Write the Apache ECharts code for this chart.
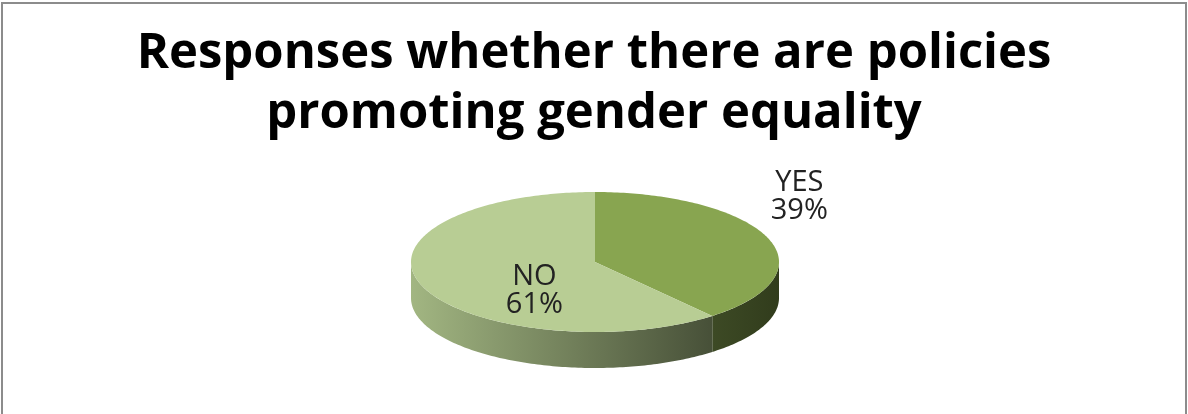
<!DOCTYPE html>
<html>
<head>
<meta charset="utf-8">
<script src="https://cdn.jsdelivr.net/npm/echarts@6/dist/echarts.min.js"></script>
<style>
  html, body { margin: 0; padding: 0; background: #fff; }
  #chart { width: 1188px; height: 414px; }
</style>
</head>
<body>
<div id="chart"></div>
<script>
// data
const categories = ['YES', 'NO'];
const percents = [39, 61];

// look of the fake 3d pie
const topColors = ['#88a550', '#b8cd94'];
const sideColors = [
  ['#3d4a25', '#313c1c'],
  ['#a2b682', '#475038']
];
const pie = { cx: 595, cy: 262, rx: 184, ry: 70, depth: 36 };
// label placement: radius factor and a nudge per slice
const labelK = [1.18, 0.35];
const labelNudge = [[0, -37], [0, 20]];

const total = percents.reduce((a, b) => a + b, 0);
const starts = [];
let acc = 0;
percents.forEach(v => { starts.push(acc / total * Math.PI * 2); acc += v; });

function pt(a, dy) {
  return [pie.cx + pie.rx * Math.sin(a), pie.cy - pie.ry * Math.cos(a) + (dy || 0)];
}
function arc(a, b, dy) {
  const pts = [];
  const n = Math.max(2, Math.ceil((b - a) / (Math.PI / 180)));
  for (let k = 0; k <= n; k++) pts.push(pt(a + (b - a) * k / n, dy));
  return pts;
}

function renderSlice(params, api) {
  const i = params.dataIndex;
  const v = api.value(0);
  const a0 = starts[i];
  const a1 = a0 + v / total * Math.PI * 2;
  const children = [];
  // visible front wall
  const s0 = Math.max(a0, Math.PI / 2), s1 = Math.min(a1, Math.PI * 1.5);
  if (s0 < s1) {
    const side = arc(s0, s1, 0).concat(arc(s0, s1, pie.depth).reverse());
    children.push({
      type: 'polygon',
      shape: { points: side },
      style: {
        fill: new echarts.graphic.LinearGradient(0, 0, 1, 0, [
          { offset: 0, color: sideColors[i][0] },
          { offset: 1, color: sideColors[i][1] }
        ])
      }
    });
  }
  // top face
  const top = [[pie.cx, pie.cy]].concat(arc(a0, a1, 0));
  children.push({
    type: 'polygon',
    shape: { points: top },
    style: { fill: topColors[i] }
  });
  // label
  const m = (a0 + a1) / 2;
  children.push({
    type: 'text',
    x: pie.cx + pie.rx * labelK[i] * Math.sin(m) + labelNudge[i][0],
    y: pie.cy - pie.ry * labelK[i] * Math.cos(m) + labelNudge[i][1],
    style: {
      text: categories[i] + '\n' + v + '%',
      align: 'center',
      verticalAlign: 'middle',
      fontFamily: 'Open Sans',
      fontSize: 29,
      lineHeight: 28,
      fill: '#222'
    }
  });
  return { type: 'group', children: children };
}

const chart = echarts.init(document.getElementById('chart'));
chart.setOption({
  backgroundColor: '#fff',
  animation: false,
  title: {
    text: 'Responses whether there are policies\npromoting gender equality',
    left: 'center',
    top: 19,
    textStyle: {
      fontFamily: 'Open Sans',
      fontWeight: 'bold',
      fontSize: 49,
      lineHeight: 60,
      color: '#000'
    }
  },
  graphic: [{
    type: 'rect',
    shape: { x: 2, y: 3, width: 1184, height: 440 },
    style: { fill: 'none', stroke: '#8c8c8c', lineWidth: 2 },
    silent: true
  }],
  series: [{
    type: 'custom',
    coordinateSystem: 'none',
    data: percents.map(v => [v]),
    renderItem: renderSlice
  }]
});
</script>
</body>
</html>
